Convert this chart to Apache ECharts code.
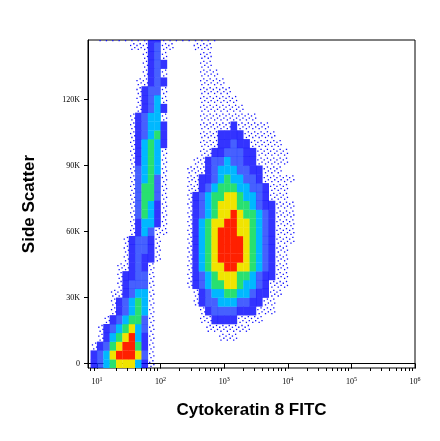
<!DOCTYPE html>
<html><head><meta charset="utf-8">
<script src="https://cdn.jsdelivr.net/npm/echarts@6/dist/echarts.min.js"></script>
<style>html,body{margin:0;padding:0;background:#fff}#c{width:440px;height:441px}</style>
</head><body><div id="c"></div>
<script>
// density grid: column i covers log10(x) in [0.9+0.1i, 1.0+0.1i],
// row j covers y in [4j-2, 4j+2]K. level 0 none .. 7 red peak
const xStart = 0.9, xStep = 0.1, yStep = 4000;
const densityRows = [
"2345666421",
"2346777631",
"1235677521",
"0124567421000000000011100000000000",
"0123456431000000001111111000000000",
"0012345531000000011222211110000000",
"0001234541000000012333322211100000",
"0001234541000000123344433221100000",
"0001123441000000123445544322110000",
"0000123331000001234556654432111000",
"0000122331000001234566655432211000",
"0000112321000001245667766543211000",
"0000012322100001245677776543211000",
"0000012332100001245677776543211000",
"0000012332100001245677776543211100",
"0000001243110001245677766543211100",
"0000001244210001245667766543211100",
"0000001354210001234566765543211100",
"0000001354210001234566655432211100",
"0000001355310001234556654432111000",
"000000135531000112345554433211100",
"0000001345310001122345443321111100",
"000000134541000111234443322111000",
"000000124541000011233433221111100",
"00000012454100000112233322111110",
"0000001245420000011122322111110",
"000000123452000001112222111110",
"00000012344200000111112111110",
"000000123441000001111111110",
"0000000123420000011111110",
"000000012341000001111110",
"00000001233100000111110",
"0000000112320000011110",
"000000001231000001110",
"000000001232000001100",
"000000001231000001100",
"0000001112311000111",
"0111111112211111111100"
];
const levelColors = ['', '#1010ff', '#0000ff', '#1838ff', '#00b8ff', '#28e070', '#f0e400', '#ff2000'];
const xTickExps = [1, 2, 3, 4, 5, 6];
const yTickValues = [0, 30000, 60000, 90000, 120000];
const yTickLabels = ['0', '30K', '60K', '90K', '120K'];

const cells = [];
densityRows.forEach((row, j) => {
  for (let i = 0; i < row.length; i++) {
    const lv = +row[i];
    if (lv > 0) cells.push([xStart + i * xStep, j * yStep - yStep / 2, lv]);
  }
});
const minor = [];
for (let d = 0; d < 6; d++) for (let k = 2; k <= 9; k++) {
  const v = d + Math.log10(k); if (v > 0.86 && v < 6) minor.push(v);
}

const chart = echarts.init(document.getElementById('c'));
chart.setOption({
  animation: false,
  grid: { left: 88, right: 25, top: 40, bottom: 73, show: true, borderColor: '#000', borderWidth: 1 },
  xAxis: [{
    type: 'value', min: 0.86, max: 6.0,
    name: 'Cytokeratin 8 FITC', nameLocation: 'middle', nameGap: 34,
    nameTextStyle: { fontFamily: 'Liberation Sans', fontWeight: 'bold', fontSize: 17, color: '#000' },
    axisLine: { lineStyle: { color: '#000' } },
    axisTick: { customValues: xTickExps, length: 5, lineStyle: { color: '#000' } },
    axisLabel: { customValues: xTickExps, color: '#000', fontFamily: 'Liberation Serif', fontSize: 8,
      formatter: v => '10{s|' + Math.round(v) + '}',
      rich: { s: { fontSize: 6, fontFamily: 'Liberation Serif', color: '#000', padding: [0, 0, 6, 0] } } },
    splitLine: { show: false }
  }, {
    type: 'value', min: 0.86, max: 6.0, position: 'bottom',
    axisLine: { show: false },
    axisTick: { customValues: minor, length: 3, lineStyle: { color: '#000' } },
    axisLabel: { show: false }, splitLine: { show: false }
  }],
  yAxis: {
    type: 'value', min: -2000, max: 147000,
    name: 'Side Scatter', nameLocation: 'middle', nameGap: 50,
    nameTextStyle: { fontFamily: 'Liberation Sans', fontWeight: 'bold', fontSize: 17, color: '#000' },
    axisLine: { lineStyle: { color: '#000' } },
    axisTick: { customValues: yTickValues, length: 4, lineStyle: { color: '#000' } },
    axisLabel: { customValues: yTickValues, color: '#000', fontFamily: 'Liberation Serif', fontSize: 8,
      formatter: v => yTickLabels[yTickValues.indexOf(Math.round(v))] || '' },
    splitLine: { show: false }
  },
  series: [{
    type: 'custom', data: cells, clip: true,
    renderItem: (params, api) => {
      const x = api.value(0), y = api.value(1), lv = api.value(2);
      const p0 = api.coord([x, y + yStep]), p1 = api.coord([x + xStep, y]);
      const w = p1[0] - p0[0], h = p1[1] - p0[1];
      if (lv === 1) {
        const pts = [[0.2, 0.3], [0.7, 0.1], [0.4, 0.75], [0.85, 0.55]];
        return { type: 'group', children: pts.map(q => ({ type: 'rect',
          shape: { x: p0[0] + q[0] * w, y: p0[1] + q[1] * h, width: 1.3, height: 1.3 },
          style: { fill: levelColors[1] } })) };
      }
      return { type: 'rect', shape: { x: p0[0], y: p0[1], width: w + 0.3, height: h + 0.3 },
        style: { fill: levelColors[lv], opacity: lv <= 3 ? 0.8 : 1 } };
    }
  }]
});
</script></body></html>
